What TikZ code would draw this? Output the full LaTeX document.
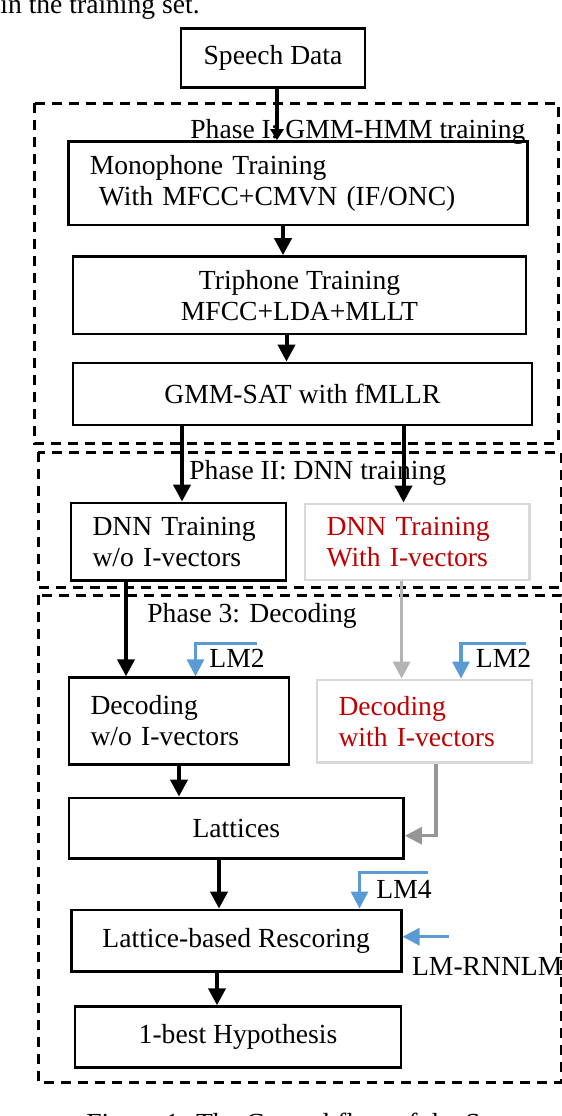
\documentclass[tikz,border=0pt]{standalone}
\usepackage{fontspec}
\setmainfont{Liberation Serif}
\usetikzlibrary{arrows.meta}
\definecolor{lmblue}{RGB}{91,155,213}
\definecolor{ivred}{RGB}{192,0,0}
\definecolor{ivbox}{RGB}{217,217,217}
\definecolor{ivline}{RGB}{180,180,180}
\definecolor{ivlat}{RGB}{150,150,150}
\tikzset{
  blk/.style={draw, line width=1.4pt, align=center, inner sep=0pt},
  lblk/.style={blk, align=left, inner xsep=10.75pt},
  ivblk/.style={lblk, draw=ivbox, text=ivred},
  phase/.style={draw, line width=1.5pt, dash pattern=on 5pt off 3.5pt},
  lbl/.style={anchor=base west, inner sep=0pt},
  flow/.style={-{Triangle[length=8.5pt,width=8.5pt]}, line width=2pt},
  lmflow/.style={flow, color=lmblue, line width=1.6pt},
  ivflow/.style={flow, line width=1.6pt},
}
\begin{document}
\begin{tikzpicture}[x=0.5pt, y=-0.5pt, font=\fontsize{13.8}{15.5}\selectfont]
    \useasboundingbox (0,0) rectangle (562,1116);
    \node[lbl] (prev) at (0,13) {in the training set.};

    % phases
    \draw[phase] (34,103) rectangle (558,443);
    \draw[phase] (38,452) rectangle (561,587);
    \draw[phase] (38,595) rectangle (561,1082);
    \node[lbl] (ph1) at (190,138) {Phase I: GMM-HMM training};
    \node[lbl] (ph2) at (189,479) {Phase II: DNN training};
    \node[lbl] (ph3) at (147,622) {Phase 3: Decoding};

    \node[blk, minimum width=92pt, minimum height=29.5pt] (speech) at (273,58) {Speech Data};
    \node[lblk, text width=208pt, minimum height=41.75pt] (mono) at (297.8,183.3)
      {Monophone Training\\\ With MFCC+CMVN (IF/ONC)};
    \node[blk, minimum width=226.5pt, minimum height=38.7pt] (tri) at (299.5,295.3)
      {Triphone Training\\MFCC+LDA+MLLT};
    \node[blk, minimum width=229.5pt, minimum height=31pt] (gmm) at (302.5,394) {GMM-SAT with fMLLR};

    \node[lblk, text width=86pt, minimum height=38.9pt] (dnnplain) at (178.5,541.9) {DNN Training\\w/o I-vectors};
    \node[ivblk, text width=90.75pt, minimum height=38pt] (dnnivec) at (417.3,542) {DNN Training\\With I-vectors};

    \node[lblk, text width=88.5pt, minimum height=43.2pt] (decplain) at (179,720.9) {Decoding\\w/o I-vectors};
    \node[ivblk, text width=86pt, minimum height=41.4pt] (decivec) at (424.5,721.4) {Decoding\\with I-vectors};
    \node[blk, minimum width=167.25pt, minimum height=30.2pt] (lat) at (236.3,828.2) {Lattices};
    \node[blk, minimum width=164.9pt, minimum height=30.9pt] (resc) at (236.2,940.9) {Lattice-based Rescoring};
    \node[blk, minimum width=163pt, minimum height=30.5pt] (best) at (238,1037.2) {1-best Hypothesis};

    % language models
    \node[lbl] (lm2plain) at (209,667) {LM2};
    \node[lbl] (lm2ivec) at (475.5,667) {LM2};
    \node[lbl] (lm4) at (376,898) {LM4};
    \node[lbl] (rnnlm) at (411.7,975) {LM-RNNLM};
    \coordinate (lm2plainIn) at (256.5,643.5);
    \coordinate (lm2plainBend) at (195.5,643.5);
    \coordinate (lm2ivecIn) at (526,643.5);
    \coordinate (lm2ivecBend) at (461,643.5);
    \coordinate (lm4In) at (428,872.5);
    \coordinate (lm4Bend) at (359.5,872.5);
    \coordinate (rnnIn) at (449,936.7);

    \draw[flow, -{Triangle[length=5.5pt,width=6.5pt]}] ([xshift=2pt]speech.south) -- ([xshift=2pt]speech.south |- mono.north);
    \draw[flow] ([xshift=-7.4pt]mono.south) -- ([xshift=-7.4pt]mono.south |- tri.north);
    \draw[flow] ([xshift=-6.5pt]tri.south) -- ([xshift=-6.5pt]tri.south |- gmm.north);
    \draw[flow] ([xshift=-60.25pt]gmm.south) -- ([xshift=-60.25pt]gmm.south |- dnnplain.north);
    \draw[flow] ([xshift=50.5pt]gmm.south) -- ([xshift=50.5pt]gmm.south |- dnnivec.north);
    \draw[flow] ([xshift=-26.25pt]dnnplain.south) -- ([xshift=-26.25pt]dnnplain.south |- decplain.north);
    \draw[ivflow, ivline] ([xshift=-7.85pt]dnnivec.south) -- ([xshift=-7.85pt]dnnivec.south |- decivec.north);
    \draw[flow] (decplain.south) -- (decplain.south |- lat.north);
    \draw[ivflow, ivlat] ([xshift=5.75pt]decivec.south) |- ([yshift=-3.75pt]lat.east);
    \draw[flow] ([xshift=-8.65pt]lat.south) -- ([xshift=-8.65pt]lat.south |- resc.north);
    \draw[flow] ([xshift=-9.6pt]resc.south) -- ([xshift=-9.6pt]resc.south |- best.north);

    \draw[lmflow] (lm2plainIn) -- (lm2plainBend) -- (lm2plainBend |- decplain.north);
    \draw[lmflow] (lm2ivecIn) -- (lm2ivecBend) -- (lm2ivecBend |- decivec.north);
    \draw[lmflow] (lm4In) -- (lm4Bend) -- (lm4Bend |- resc.north);
    \draw[lmflow] (rnnIn) -- (rnnIn -| resc.east);

    \node[lbl] (caption) at (86,1132) {Figure 1: The Control flow of the System};
  \end{tikzpicture}
\end{document}
